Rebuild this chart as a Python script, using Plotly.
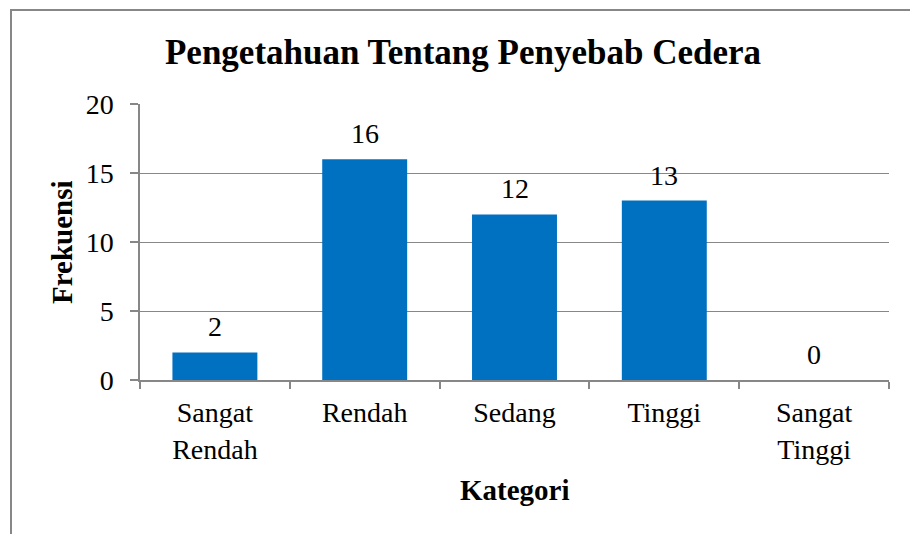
import plotly.graph_objects as go

categories = ["Sangat<br>Rendah", "Rendah", "Sedang", "Tinggi", "Sangat<br>Tinggi"]
values = [2, 16, 12, 13, 0]
y_ticks = [0, 5, 10, 15, 20]

title_text = "Pengetahuan Tentang Penyebab Cedera"
x_title = "Kategori"
y_title = "Frekuensi"

FONT = "Liberation Serif, Times New Roman, serif"
GRAY = "#878787"
BAR = "#0070C0"

W, H = 910, 534
L, R, T, B = 140, 21, 104, 154
pw, ph = W - L - R, H - T - B

fig = go.Figure(go.Bar(
    x=categories, y=values, marker=dict(color=BAR, line=dict(width=0)),
    hoverinfo="x+y",
))

annotations = []
for c, v in zip(categories, values):
    annotations.append(dict(
        x=c, y=v, xref="x", yref="y", text=str(v), showarrow=False,
        yanchor="bottom", yshift=8, font=dict(family=FONT, size=28, color="black"),
    ))
annotations.append(dict(
    x=(62 - L) / pw, y=0.5, xref="paper", yref="paper", text="<b>%s</b>" % y_title,
    textangle=-90, showarrow=False, xanchor="center", yanchor="middle",
    font=dict(family=FONT, size=29, color="black"),
))
annotations.append(dict(
    x=0.5, y=(T + ph - 490) / ph, xref="paper", yref="paper", text="<b>%s</b>" % x_title,
    showarrow=False, xanchor="center", yanchor="middle",
    font=dict(family=FONT, size=29, color="black"),
))

fig.update_layout(
    width=W, height=H,
    margin=dict(l=L, r=R, t=T, b=B, pad=0),
    paper_bgcolor="white", plot_bgcolor="white",
    showlegend=False,
    bargap=0.433,
    title=dict(text="<b>%s</b>" % title_text, x=463 / W, xref="container", xanchor="center",
               y=1 - 52 / H, yref="container", yanchor="middle",
               font=dict(family=FONT, size=35, color="black")),
    font=dict(family=FONT, size=28, color="black"),
    annotations=annotations,
    shapes=[dict(type="rect", xref="paper", yref="paper",
                 x0=(11 - L) / pw, x1=(930 - L) / pw,
                 y0=(T + ph - 560) / ph, y1=1 + (T - 10) / ph,
                 line=dict(color=GRAY, width=2), fillcolor="rgba(0,0,0,0)", layer="below")],
)

fig.update_xaxes(
    type="category", range=[-0.5, 4.5],
    showline=True, linecolor=GRAY, linewidth=1.5,
    ticks="outside", tickson="boundaries", ticklen=7, tickcolor=GRAY, tickwidth=1.5,
    showgrid=False, ticklabelstandoff=7,
    tickfont=dict(family=FONT, size=28, color="black"),
)
fig.update_yaxes(
    range=[0, 20], tickvals=y_ticks,
    showline=True, linecolor=GRAY, linewidth=1.5,
    ticks="outside", ticklen=8, tickcolor=GRAY, tickwidth=1.5,
    showgrid=True, gridcolor=GRAY, gridwidth=1.2, zeroline=False,
    ticklabelstandoff=11,
    tickfont=dict(family=FONT, size=28, color="black"),
)

fig.write_html("out.html", config={"displayModeBar": False},
               post_script="document.body.style.margin='0';document.body.style.overflow='hidden';")
